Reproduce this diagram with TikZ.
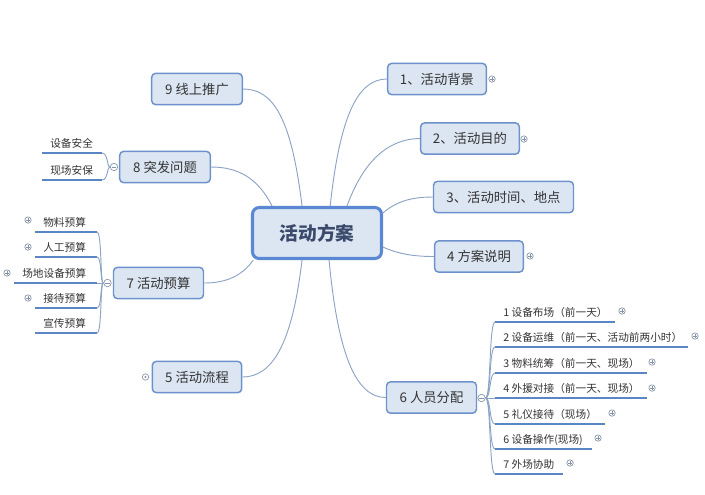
\documentclass[tikz,border=0pt]{standalone}
\usepackage{fontspec}
\setmainfont{Noto Sans CJK SC}
\definecolor{cfill}{HTML}{DCE6F3}
\definecolor{cedge}{HTML}{6C91CB}
\definecolor{cmain}{HTML}{5A88D2}
\definecolor{cconn}{HTML}{8DA3C6}
\definecolor{culine}{HTML}{5B86C5}
\definecolor{cicon}{HTML}{8594A8}
\definecolor{ctxt}{HTML}{333333}
\definecolor{cmaintxt}{HTML}{3B4A6B}
\begin{document}
\begin{tikzpicture}[x=0.75pt,y=-0.75pt,
  topic/.style={draw=cedge, fill=cfill, line width=1.1pt, rounded corners=3pt, minimum height=23.5pt, inner sep=0pt, font=\fontsize{10}{12}\selectfont, text=ctxt},
  central/.style={draw=cmain, fill=cfill, line width=2.3pt, rounded corners=5pt, minimum width=96.75pt, minimum height=38.25pt, inner sep=0pt, font=\fontsize{14}{16}\selectfont\bfseries, text=cmaintxt},
  link/.style={draw=cconn, line width=0.7pt},
  leaf/.style={anchor=south west, inner xsep=6pt, inner ysep=0pt, text height=7pt, text depth=4.2pt, font=\fontsize{8}{10}\selectfont, text=ctxt},
  ul/.style={draw=culine, line width=1.7pt},
  bracket/.style={draw=cconn, line width=0.7pt},
  plusicon/.style={circle, draw=cicon, fill=white, line width=0.5pt, inner sep=0pt, minimum size=4.8pt,
    path picture={\draw[cicon, line width=0.5pt] ([xshift=-1.4pt]path picture bounding box.center) -- ([xshift=1.4pt]path picture bounding box.center) ([yshift=-1.4pt]path picture bounding box.center) -- ([yshift=1.4pt]path picture bounding box.center);}},
  minusicon/.style={circle, draw=cicon, fill=white, line width=0.5pt, inner sep=0pt, minimum size=5.6pt,
    path picture={\draw[cicon, line width=0.5pt] ([xshift=-1.7pt]path picture bounding box.center) -- ([xshift=1.7pt]path picture bounding box.center);}},
  doticon/.style={circle, draw=cicon, fill=white, line width=0.5pt, inner sep=0pt, minimum size=4.8pt,
    path picture={\fill[cicon] (path picture bounding box.center) circle[radius=0.9pt];}}
]
\useasboundingbox (0,0) rectangle (705,494);

% central
\node[central] (c) at (317,233) {活动方案};

% main topics
\node[topic, minimum width=74pt] (n1) at (437,79) {1、活动背景};
\node[topic, minimum width=74pt] (n2) at (470,138.5) {2、活动目的};
\node[topic, minimum width=105pt] (n3) at (503.5,197) {3、活动时间、地点};
\node[topic, minimum width=66.5pt] (n4) at (479,256.5) {4 方案说明};
\node[topic, minimum width=67.5pt] (n6) at (431.5,397.5) {6 人员分配};
\node[topic, minimum width=68pt] (n9) at (197,89) {9 线上推广};
\node[topic, minimum width=68pt] (n8) at (165,167) {8 突发问题};
\node[topic, minimum width=67.5pt] (n7) at (158.5,283) {7 活动预算};
\node[topic, minimum width=67pt] (n5) at (197,377) {5 活动流程};

% icons of main topics
\node[plusicon] (i1) at (492,79) {};
\node[plusicon] (i2) at (524,139) {};
\node[plusicon] (i4) at (530,256) {};
\node[doticon] (i5) at (145.5,377) {};
\node[minusicon] (m6) at (481.5,398) {};
\node[minusicon] (m8) at (114,167) {};
\node[minusicon] (m7) at (107.5,283) {};

% connectors from the central topic
\draw[link] (c.119) .. controls (291,115) and (272,89) .. (n9.east);
\draw[link] (c.149) .. controls (258,178) and (238,167) .. (n8.east);
\draw[link] (c.64) .. controls (340,115) and (358,79) .. (n1.west);
\draw[link] (c.42) .. controls (362,165) and (385,139) .. (n2.west);
\draw[link] (c.17.4) .. controls (396,202) and (410,197) .. (n3.west);
\draw[link] (c.-12.8) .. controls (398,254) and (414,256.5) .. (n4.west);
\draw[link] (c.203.6) .. controls (242,276) and (226,283) .. (n7.east);
\draw[link] (c.241) .. controls (292,345) and (272,377) .. (n5.east);
\draw[link] (c.-66) .. controls (338,355) and (356,397.5) .. (n6.west);

% leaves of 6
\node[leaf] (r1) at (495,322) {1 设备布场（前一天）};
\node[leaf] (r2) at (495,347) {2 设备运维（前一天、活动前两小时）};
\node[leaf] (r3) at (495,373) {3 物料统筹（前一天、现场）};
\node[leaf] (r4) at (495,398) {4 外援对接（前一天、现场）};
\node[leaf] (r5) at (495,424) {5 礼仪接待（现场）};
\node[leaf] (r6) at (495,449) {6 设备操作(现场)};
\node[leaf] (r7) at (495,474) {7 外场协助};
\coordinate (r1e) at (615,322);
\coordinate (r2e) at (688,347);
\coordinate (r3e) at (647,373);
\coordinate (r4e) at (647,398);
\coordinate (r5e) at (605,424);
\coordinate (r6e) at (592,449);
\coordinate (r7e) at (563,474);
\foreach \k in {1,...,7}{\draw[ul] (r\k.south west) -- (r\k e);}
\draw[bracket] (m6.east) .. controls (491,398) and (489,322) .. (r1.south west);
\draw[bracket] (m6.east) .. controls (491,398) and (489,347) .. (r2.south west);
\draw[bracket] (m6.east) .. controls (491,398) and (489,373) .. (r3.south west);
\draw[bracket] (m6.east) -- (r4.south west);
\draw[bracket] (m6.east) .. controls (491,398) and (489,424) .. (r5.south west);
\draw[bracket] (m6.east) .. controls (491,398) and (489,449) .. (r6.south west);
\draw[bracket] (m6.east) .. controls (491,398) and (489,474) .. (r7.south west);
\node[plusicon] (q1) at (622,311) {};
\node[plusicon] (q2) at (695,336) {};
\node[plusicon] (q3) at (652,362) {};
\node[plusicon] (q4) at (652,388) {};
\node[plusicon] (q5) at (612,413) {};
\node[plusicon] (q6) at (598,438) {};
\node[plusicon] (q7) at (570,463) {};

% leaves of 8
\node[leaf] (e1) at (42,153) {设备安全};
\node[leaf] (e2) at (42,180) {现场安保};
\coordinate (e1e) at (102,153);
\coordinate (e2e) at (102,180);
\draw[ul] (e1.south west) -- (e1e);
\draw[ul] (e2.south west) -- (e2e);
\draw[bracket] (m8.west) .. controls (107,167) and (108,153) .. (e1e);
\draw[bracket] (m8.west) .. controls (107,167) and (108,180) .. (e2e);

% leaves of 7
\node[leaf] (b1) at (35,232) {物料预算};
\node[leaf] (b2) at (35,257) {人工预算};
\node[leaf] (b3) at (14,283) {场地设备预算};
\node[leaf] (b4) at (35,308) {接待预算};
\node[leaf] (b5) at (35,333) {宣传预算};
\coordinate (b1e) at (97,232);
\coordinate (b2e) at (97,257);
\coordinate (b3e) at (97,283);
\coordinate (b4e) at (97,308);
\coordinate (b5e) at (97,333);
\foreach \k in {1,...,5}{\draw[ul] (b\k.south west) -- (b\k e);}
\draw[bracket] (m7.west) .. controls (100,283) and (102,232) .. (b1e);
\draw[bracket] (m7.west) .. controls (100,283) and (102,257) .. (b2e);
\draw[bracket] (m7.west) -- (b3e);
\draw[bracket] (m7.west) .. controls (100,283) and (102,308) .. (b4e);
\draw[bracket] (m7.west) .. controls (100,283) and (102,333) .. (b5e);
\node[plusicon] (s1) at (28,220) {};
\node[plusicon] (s2) at (28,247) {};
\node[plusicon] (s3) at (7,273) {};
\node[plusicon] (s4) at (28,298) {};
\end{tikzpicture}
\end{document}
